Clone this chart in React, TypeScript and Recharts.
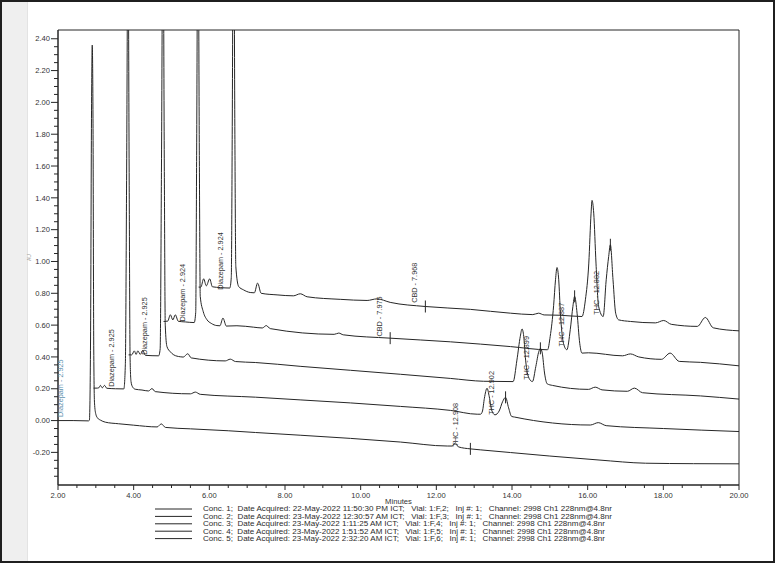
import React from 'react';
import { ComposedChart, Line, Scatter, XAxis, YAxis, ReferenceArea, Legend } from 'recharts';

// chromatogram traces, [minutes, AU] (already shifted as drawn)
const conc1: [number, number][] = [
  [2.0, 0.0], [2.4, 0.0], [2.8, -0.002], [2.83, 0.002], [2.86, 0.5], [2.885, 1.9], [2.905, 2.36],
  [2.925, 1.9], [2.945, 0.45], [2.965, 0.11], [3.0, 0.04], [3.05, 0.015], [3.12, 0.003], [3.25, -0.01],
  [3.6, -0.02], [4.0, -0.029], [4.62, -0.04], [4.73, -0.021], [4.84, -0.043], [5.5, -0.052],
  [6.5, -0.064], [7.22, -0.075], [8.4, -0.092], [9.73, -0.112], [11.05, -0.135], [12.29, -0.16],
  [12.42, -0.16], [12.5, -0.14], [12.58, -0.165], [12.9, -0.178], [13.16, -0.184], [13.96, -0.201],
  [15.0, -0.223], [16.3, -0.248], [17.53, -0.268], [18.8, -0.271], [20.0, -0.272],
];

const conc2: [number, number][] = [
  [2.94, 0.204], [3.04, 0.204], [3.08, 0.206], [3.12, 0.221], [3.17, 0.206], [3.23, 0.221],
  [3.29, 0.203], [3.52, 0.2], [3.74, 0.199], [3.78, 0.35], [3.815, 1.6], [3.85, 3.2], [3.88, 1.6],
  [3.905, 0.4], [3.93, 0.245], [3.97, 0.212], [4.04, 0.197], [4.22, 0.192], [4.39, 0.186],
  [4.485, 0.201], [4.57, 0.182], [5.5, 0.168], [5.63, 0.179], [5.76, 0.165], [7.22, 0.147],
  [8.4, 0.13], [9.73, 0.111], [11.05, 0.089], [12.37, 0.064], [13.08, 0.04], [13.17, 0.04],
  [13.22, 0.06], [13.27, 0.14], [13.34, 0.203], [13.4, 0.149], [13.46, 0.067], [13.55, 0.036],
  [13.66, 0.06], [13.75, 0.118], [13.83, 0.146], [13.91, 0.08], [13.99, 0.026], [14.07, 0.022],
  [16.07, -0.028], [16.28, -0.013], [16.49, -0.032], [18.0, -0.05], [20.0, -0.069],
];

const conc3: [number, number][] = [
  [3.866, 0.413], [3.95, 0.413], [4.017, 0.438], [4.065, 0.416], [4.11, 0.438], [4.175, 0.416],
  [4.24, 0.441], [4.31, 0.41], [4.66, 0.407], [4.7, 0.45], [4.735, 1.6], [4.775, 3.3], [4.81, 1.6],
  [4.835, 0.6], [4.88, 0.465], [4.97, 0.432], [5.06, 0.413], [5.23, 0.401], [5.31, 0.399],
  [5.43, 0.42], [5.52, 0.394], [6.42, 0.375], [6.555, 0.386], [6.69, 0.371], [7.215, 0.365],
  [8.4, 0.341], [9.73, 0.316], [11.05, 0.291], [12.37, 0.265], [13.25, 0.247], [14.03, 0.245],
  [14.13, 0.38], [14.22, 0.53], [14.265, 0.576], [14.31, 0.53], [14.36, 0.38], [14.45, 0.266],
  [14.54, 0.245], [14.63, 0.34], [14.71, 0.435], [14.75, 0.454], [14.8, 0.424], [14.86, 0.299],
  [14.93, 0.231], [15.07, 0.221], [16.02, 0.196], [16.2, 0.21], [16.38, 0.193], [17.05, 0.184],
  [17.235, 0.204], [17.45, 0.175], [18.98, 0.155], [20.0, 0.135],
];

const conc4: [number, number][] = [
  [4.79, 0.623], [4.9, 0.625], [4.97, 0.665], [5.035, 0.633], [5.1, 0.665], [5.18, 0.624],
  [5.365, 0.62], [5.6, 0.616], [5.64, 0.68], [5.665, 1.7], [5.7, 3.4], [5.735, 1.7], [5.76, 0.78],
  [5.84, 0.684], [5.94, 0.633], [6.05, 0.611], [6.2, 0.597], [6.28, 0.596], [6.36, 0.644],
  [6.45, 0.594], [6.73, 0.596], [7.17, 0.587], [7.4, 0.582], [7.505, 0.597], [7.61, 0.578],
  [9.3, 0.542], [9.42, 0.55], [9.54, 0.539], [10.78, 0.518], [12.37, 0.495], [13.96, 0.465],
  [14.94, 0.445], [15.01, 0.529], [15.1, 0.722], [15.15, 0.885], [15.19, 0.962], [15.235, 0.885],
  [15.28, 0.675], [15.36, 0.486], [15.45, 0.445], [15.54, 0.571], [15.61, 0.718], [15.655, 0.781],
  [15.72, 0.675], [15.79, 0.486], [15.85, 0.424], [16.02, 0.426], [16.92, 0.407], [17.13, 0.419],
  [17.35, 0.4], [17.95, 0.385], [18.18, 0.424], [18.42, 0.372], [18.98, 0.366], [20.0, 0.344],
];

const conc5: [number, number][] = [
  [5.717, 0.839], [5.775, 0.839], [5.85, 0.891], [5.92, 0.847], [6.01, 0.891], [6.08, 0.841],
  [6.29, 0.836], [6.54, 0.833], [6.58, 0.9], [6.605, 1.8], [6.64, 3.6], [6.675, 1.8], [6.7, 0.97],
  [6.775, 0.843], [6.9, 0.822], [7.08, 0.805], [7.19, 0.803], [7.276, 0.864], [7.37, 0.8],
  [7.79, 0.79], [8.22, 0.784], [8.405, 0.797], [8.585, 0.778], [9.46, 0.762], [10.17, 0.755],
  [10.43, 0.765], [10.78, 0.743], [11.71, 0.717], [12.9, 0.699], [13.96, 0.675], [14.55, 0.666],
  [14.7, 0.675], [14.85, 0.664], [15.28, 0.662], [15.85, 0.654], [15.94, 0.759], [16.03, 0.99],
  [16.09, 1.304], [16.115, 1.384], [16.16, 1.304], [16.22, 0.99], [16.29, 0.717], [16.41, 0.654],
  [16.49, 0.885], [16.555, 1.031], [16.6, 1.105], [16.67, 0.885], [16.74, 0.675], [16.82, 0.633],
  [17.13, 0.623], [17.79, 0.614], [18.01, 0.629], [18.21, 0.605], [18.9, 0.592], [19.11, 0.648],
  [19.32, 0.583], [20.0, 0.564],
];

const traces = [conc1, conc2, conc3, conc4, conc5];

// integration tick marks
const markers: [number, number][] = [
  [12.9, -0.178], [13.83, 0.146], [14.75, 0.454], [15.655, 0.781], [16.6, 1.105],
  [10.78, 0.518], [11.71, 0.717],
];

// peak labels, anchored at the start of the rotated text
const peakLabels: [number, number, string][] = [
  [2.13, 0.023, 'Diazepam - 2.925'],
  [3.49, 0.212, 'Diazepam - 2.925'],
  [4.36, 0.413, 'Diazepam - 2.925'],
  [5.365, 0.623, 'Diazepam - 2.924'],
  [6.356, 0.822, 'Diazepam - 2.924'],
  [10.56, 0.528, 'CBD - 7.975'],
  [11.485, 0.74, 'CBD - 7.968'],
  [12.58, -0.164, 'THC - 12.908'],
  [13.53, 0.036, 'THC - 12.902'],
  [14.455, 0.256, 'THC - 12.899'],
  [15.38, 0.465, 'THC - 12.887'],
  [16.31, 0.665, 'THC - 12.882'],
];

const legendRows = [
  'Conc. 1;  Date Acquired: 22-May-2022 11:50:30 PM ICT;   Vial: 1:F,2;   Inj #: 1;   Channel: 2998 Ch1 228nm@4.8nr',
  'Conc. 2;  Date Acquired: 23-May-2022 12:30:57 AM ICT;   Vial: 1:F,3;   Inj #: 1;   Channel: 2998 Ch1 228nm@4.8nr',
  'Conc. 3;  Date Acquired: 23-May-2022 1:11:25 AM ICT;   Vial: 1:F,4;   Inj #: 1;   Channel: 2998 Ch1 228nm@4.8nr',
  'Conc. 4;  Date Acquired: 23-May-2022 1:51:52 AM ICT;   Vial: 1:F,5;   Inj #: 1;   Channel: 2998 Ch1 228nm@4.8nr',
  'Conc. 5;  Date Acquired: 23-May-2022 2:32:20 AM ICT;   Vial: 1:F,6;   Inj #: 1;   Channel: 2998 Ch1 228nm@4.8nr',
];

const xMajor = [2, 4, 6, 8, 10, 12, 14, 16, 18, 20];
const yMajor = [-0.2, 0, 0.2, 0.4, 0.6, 0.8, 1.0, 1.2, 1.4, 1.6, 1.8, 2.0, 2.2, 2.4];
const xTicks = Array.from({ length: 37 }, (_, i) => 2 + i * 0.5);
const yTicks = Array.from({ length: 56 }, (_, i) => Math.round((-0.35 + i * 0.05) * 100) / 100);

const INK = '#262626';

const isMajor = (v: number, list: number[]) => list.some((m) => Math.abs(m - v) < 1e-6);

const XTick = (props: any) => {
  const { x, y, payload } = props;
  const major = isMajor(payload.value, xMajor);
  return (
    <g>
      <line x1={x} x2={x} y1={y} y2={y + (major ? 5 : 3)} stroke={INK} />
      {major && (
        <text x={x} y={y + 12.5} textAnchor="middle" fontSize={7.6} fill="#333">
          {payload.value.toFixed(2)}
        </text>
      )}
    </g>
  );
};

const YTick = (props: any) => {
  const { x, y, payload } = props;
  const major = isMajor(payload.value, yMajor);
  return (
    <g>
      <line x1={x - (major ? 7 : 4)} x2={x} y1={y} y2={y} stroke={INK} />
      {major && (
        <text x={x - 8} y={y + 2.7} textAnchor="end" fontSize={7.6} fill="#333">
          {payload.value.toFixed(2)}
        </text>
      )}
    </g>
  );
};

const MarkerShape = (props: any) => {
  const { cx, cy } = props;
  return <line x1={cx} x2={cx} y1={cy - 6} y2={cy + 6} stroke={INK} />;
};

const LabelShape = (props: any) => {
  const { cx, cy, payload } = props;
  const faint = payload.t < 2.5;
  return (
    <text
      x={cx}
      y={cy}
      transform={`rotate(-90 ${cx} ${cy})`}
      fontSize={7.3}
      fill={faint ? '#5d8fae' : '#333'}
    >
      {payload.text}
    </text>
  );
};

const LegendBlock = () => (
  <svg width={775} height={563} style={{ position: 'absolute', left: 0, top: 0 }}>
    {legendRows.map((row, i) => {
      const y = 509 + i * 7.4;
      return (
        <g key={i}>
          <line x1={155} x2={192} y1={y} y2={y} stroke={INK} />
          <text
            x={203}
            y={y + 2.4}
            fontSize={6.3}
            fill="#2b2b2b"
            textLength={i < 2 ? 409 : 402}
            lengthAdjust="spacingAndGlyphs"
            style={{ whiteSpace: 'pre' }}
          >
            {row}
          </text>
        </g>
      );
    })}
  </svg>
);

export default function App() {
  return (
    <div
      style={{
        position: 'absolute',
        left: 0,
        top: 0,
        width: 775,
        height: 563,
        background: '#fff',
        fontFamily: '"Liberation Sans", Arial, sans-serif',
      }}
    >
      <div style={{ position: 'absolute', left: 2, top: 2, width: 25, height: 559, background: '#efefef', borderRight: '1px solid #e3e3e3' }} />
      <div style={{ position: 'absolute', left: 0, top: 0, width: 775, height: 563, border: '2px solid #1f1f1f', boxSizing: 'border-box' }} />
      <div style={{ position: 'absolute', left: 0, top: 0 }}>
        <ComposedChart width={775} height={563} margin={{ top: 30, right: 36, bottom: 58, left: 18 }}>
          <XAxis
            dataKey="t"
            type="number"
            domain={[2, 20]}
            allowDataOverflow
            ticks={xTicks}
            interval={0}
            tick={XTick}
            tickLine={false}
            tickSize={0}
            tickMargin={0}
            height={20}
            axisLine={{ stroke: INK }}
            label={{ value: 'Minutes', position: 'insideBottom', offset: 1.5, fontSize: 7.7, fill: '#333' }}
          />
          <YAxis
            type="number"
            domain={[-0.405, 2.455]}
            allowDataOverflow
            ticks={yTicks}
            interval={0}
            tick={YTick}
            tickLine={false}
            tickSize={0}
            tickMargin={0}
            width={40}
            axisLine={{ stroke: INK }}
            label={{ value: 'AU', angle: -90, position: 'insideLeft', offset: 11, fontSize: 5, fill: '#999', style: { textAnchor: 'middle' } }}
          />
          <ReferenceArea x1={2} x2={20} y1={-0.405} y2={2.455} fill="none" stroke={INK} ifOverflow="visible" />
          {traces.map((tr, i) => (
            <Line
              key={i}
              data={tr.map(([t, v]) => ({ t, v }))}
              dataKey="v"
              type="monotone"
              stroke={INK}
              strokeWidth={1}
              dot={false}
              activeDot={false}
              isAnimationActive={false}
            />
          ))}
          <Scatter
            data={markers.map(([t, v]) => ({ t, v }))}
            dataKey="v"
            shape={MarkerShape}
            isAnimationActive={false}
          />
          <Scatter
            data={peakLabels.map(([t, v, text]) => ({ t, v, text }))}
            dataKey="v"
            shape={LabelShape}
            isAnimationActive={false}
          />
          <Legend
            verticalAlign="middle"
            layout="horizontal"
            wrapperStyle={{ left: 0, top: 0, width: 775, height: 563, pointerEvents: 'none' }}
            content={() => <LegendBlock />}
          />
        </ComposedChart>
      </div>
    </div>
  );
}
